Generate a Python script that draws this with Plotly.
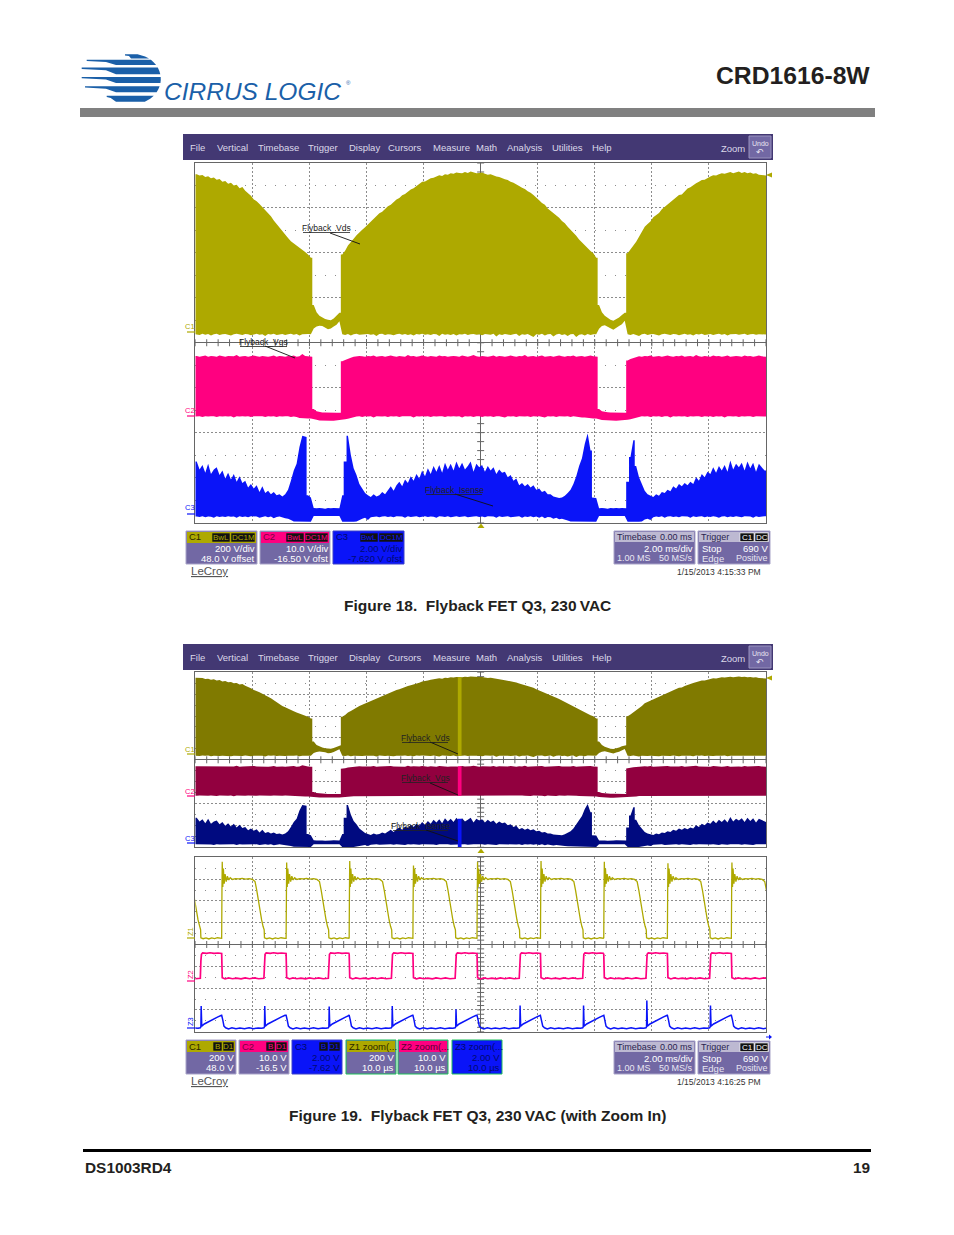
import numpy as np
import plotly.graph_objects as go

W, H = 954, 1235

# sample grid of the long captures: bin centres in ms, one bin = 0.1 ms
T_MS = np.arange(-9.95, 10.0, 0.1)
BIN_MS = 0.1

C1_TOP_V = [
    702, 696, 699, 690, 693, 684, 688, 678, 681, 668,
    672, 660, 664, 652, 655, 640, 645, 628, 618, 606,
    590, 582, 570, 556, 545, 528, 515, 496, 480, 462,
    445, 432, 418, 404, 395, 384, 376, 366, 356, 345,
    330, 120, 88, 72, 64, 58, 54, 52, 60, 72,
    85, 345, 362, 385, 398, 415, 430, 445, 455, 466,
    478, 490, 500, 514, 528, 535, 548, 560, 566, 578,
    590, 596, 608, 614, 626, 634, 640, 650, 656, 668,
    670, 678, 684, 686, 692, 698, 694, 702, 700, 706,
    704, 710, 708, 706, 712, 708, 714, 710, 706, 708,
    710, 704, 700, 702, 696, 692, 690, 684, 680, 676,
    668, 664, 658, 650, 642, 636, 626, 620, 610, 596,
    586, 574, 566, 550, 540, 532, 520, 508, 494, 484,
    468, 456, 440, 428, 412, 398, 386, 372, 360, 350,
    330, 120, 88, 72, 62, 54, 50, 56, 64, 76,
    85, 350, 366, 385, 402, 424, 445, 468, 480, 492,
    510, 520, 530, 546, 556, 570, 578, 590, 600, 610,
    612, 626, 638, 644, 654, 662, 668, 676, 678, 686,
    692, 698, 696, 702, 706, 704, 708, 712, 706, 710,
    714, 708, 712, 706, 710, 704, 706, 700, 698, 696,
]
C1_BOTTOM_V = [
    -10, -14, -8, -12, -9, -16, -10, -8, -13, -10,
    -9, -12, -16, -10, -8, -11, -14, -9, -10, -15,
    -10, -8, -12, -10, -18, -9, -11, -8, -13, -10,
    -9, -14, -10, -8, -12, -9, -16, -10, -11, -9,
    -10, 15, 24, 28, 26, 20, 12, 15, 24, 32,
    48, -10, -13, -9, -16, -10, -8, -12, -14, -10,
    -9, -12, -10, -18, -9, -8, -13, -10, -11, -15,
    -10, -8, -12, -9, -14, -10, -16, -9, -11, -8,
    -12, -10, -14, -9, -10, -18, -8, -12, -10, -13,
    -9, -16, -10, -11, -8, -14, -10, -9, -12, -10,
    -15, -9, -10, -12, -8, -20, -10, -13, -9, -11,
    -14, -10, -8, -18, -10, -12, -9, -14, -22, -10,
    -12, -8, -16, -10, -9, -20, -11, -8, -14, -10,
    -18, -10, -9, -22, -12, -10, -16, -9, -14, -10,
    -10, 14, 26, 30, 24, 16, 10, 18, 26, 34,
    50, -10, -14, -9, -12, -18, -10, -8, -13, -10,
    -9, -12, -16, -10, -8, -11, -14, -9, -10, -15,
    -10, -8, -12, -10, -16, -9, -11, -8, -13, -10,
    -9, -14, -10, -8, -12, -9, -16, -10, -11, -9,
    -12, -10, -8, -14, -10, -9, -12, -10, -8, -11,
]
C2_TOP_V = [
    13.4, 13.2, 13.3, 13.5, 13.2, 13.4, 13.3, 13.2, 13.5, 13.3,
    13.2, 13.4, 13.3, 13.3, 13.6, 13.2, 13.3, 13.4, 13.2, 13.3,
    13.5, 13.3, 13.2, 13.4, 13.3, 13.2, 13.3, 13.5, 13.2, 13.4,
    13.3, 13.2, 13.4, 13.3, 13.5, 13.2, 13.3, 13.8, 13.4, 13.3,
    13.2, 1.6, 1.1, 0.9, 0.8, 0.8, 0.75, 0.75, 0.75, 0.75,
    0.75, 12.2, 12.5, 12.8, 13.0, 13.2, 13.3, 13.4, 13.3, 13.2,
    13.4, 13.3, 13.5, 13.2, 13.3, 13.4, 13.2, 13.3, 13.5, 13.3,
    13.2, 13.4, 13.3, 13.2, 13.6, 13.3, 13.4, 13.2, 13.3, 13.5,
    13.3, 13.2, 13.4, 13.3, 13.2, 13.5, 13.3, 13.4, 13.2, 13.3,
    13.4, 13.3, 13.2, 13.5, 13.3, 13.2, 13.4, 13.6, 13.3, 13.2,
    13.4, 13.3, 13.2, 13.3, 13.5, 13.2, 13.4, 13.3, 13.2, 13.3,
    13.5, 13.3, 13.2, 13.4, 13.3, 13.6, 13.2, 13.3, 13.4, 13.2,
    13.3, 13.5, 13.2, 13.3, 13.4, 13.2, 13.3, 13.5, 13.3, 13.2,
    13.4, 13.3, 13.5, 13.2, 13.3, 13.4, 13.2, 13.3, 13.5, 13.3,
    13.2, 1.6, 1.1, 0.9, 0.85, 0.8, 0.8, 0.75, 0.75, 0.75,
    0.75, 12.4, 12.7, 12.9, 13.1, 13.3, 13.2, 13.4, 13.3, 13.5,
    13.2, 13.3, 13.4, 13.2, 13.3, 13.5, 13.3, 13.2, 13.4, 13.3,
    13.5, 13.2, 13.3, 13.4, 13.2, 13.6, 13.3, 13.2, 13.4, 13.3,
    13.2, 13.5, 13.3, 13.4, 13.2, 13.3, 13.5, 13.2, 13.3, 13.4,
    13.3, 13.2, 13.5, 13.3, 13.4, 13.2, 13.3, 13.5, 13.3, 13.2,
]
C2_BOTTOM_V = [
    -0.1, 0.0, -0.2, 0.0, -0.1, 0.0, 0.0, -0.2, 0.0, -0.1,
    0.0, -0.1, 0.0, -0.3, 0.0, -0.1, 0.0, -0.1, 0.0, -0.2,
    0.0, -0.1, 0.0, 0.0, -0.2, 0.0, -0.1, 0.0, -0.2, 0.0,
    -0.1, 0.0, 0.0, -0.2, -0.1, -0.2, -0.4, -0.4, -0.5, -0.5,
    -0.5, -0.6, -0.8, -0.95, -1.0, -1.05, -1.0, -1.0, -1.0, -0.95,
    -0.9, -0.8, -0.7, -0.6, -0.4, -0.3, -0.1, 0.0, -0.2, 0.0,
    -0.1, 0.0, -0.3, 0.0, 0.0, -0.1, 0.0, -0.2, 0.0, -0.1,
    0.0, -0.2, 0.0, -0.1, 0.0, 0.0, -0.3, 0.0, -0.1, 0.0,
    -0.1, 0.0, -0.2, 0.0, -0.1, 0.0, 0.0, -0.2, 0.0, -0.1,
    0.0, -0.1, 0.0, -0.3, 0.0, -0.1, 0.0, -0.2, 0.0, 0.0,
    -0.2, 0.0, -0.1, 0.0, -0.2, 0.0, 0.0, -0.1, -0.3, 0.0,
    -0.1, 0.0, -0.2, 0.0, 0.0, -0.1, 0.0, -0.2, 0.0, -0.1,
    0.0, -0.1, -0.3, 0.0, -0.1, 0.0, -0.2, 0.0, 0.0, -0.1,
    0.0, -0.2, 0.0, -0.1, -0.2, -0.3, -0.3, -0.4, -0.4, -0.5,
    -0.5, -0.7, -0.85, -0.95, -1.0, -1.0, -1.0, -1.0, -0.95, -0.95,
    -0.9, -0.8, -0.7, -0.5, -0.4, -0.2, 0.0, -0.1, 0.0, -0.2,
    0.0, -0.1, 0.0, -0.2, 0.0, 0.0, -0.3, 0.0, -0.1, 0.0,
    -0.1, 0.0, -0.2, 0.0, -0.1, 0.0, 0.0, -0.2, 0.0, -0.1,
    0.0, -0.2, 0.0, -0.1, 0.0, -0.3, 0.0, 0.0, -0.1, 0.0,
    -0.2, 0.0, -0.1, 0.0, 0.0, -0.2, 0.0, -0.1, 0.0, -0.1,
]
C3_TOP_V = [
    2.30, 1.95, 2.15, 1.80, 2.20, 1.75, 1.95, 2.05, 1.70, 1.90,
    1.55, 1.80, 1.50, 1.75, 1.40, 1.65, 1.35, 1.45, 1.15, 1.30,
    1.10, 1.25, 0.95, 1.20, 0.90, 1.00, 0.85, 0.95, 0.80, 0.85,
    0.75, 0.85, 1.05, 1.45, 1.90, 2.20, 2.95, 3.45, 3.40, 0.80,
    0.70, 0.24, 0.22, 0.24, 0.22, 0.20, 0.24, 0.22, 0.24, 0.22,
    0.22, 0.80, 2.30, 3.45, 2.60, 2.00, 1.70, 1.30, 1.10, 0.90,
    0.80, 0.72, 0.85, 0.75, 0.80, 0.95, 0.85, 1.05, 1.20, 1.00,
    1.25, 1.40, 1.20, 1.50, 1.35, 1.65, 1.45, 1.75, 1.55, 1.90,
    1.65, 2.00, 1.75, 2.10, 1.85, 2.15, 1.80, 2.25, 1.95, 2.20,
    1.90, 2.30, 2.00, 2.25, 1.95, 2.10, 2.30, 1.85, 2.20, 2.05,
    2.15, 1.85, 2.10, 1.90, 2.05, 1.75, 1.95, 1.80, 1.85, 1.60,
    1.70, 1.45, 1.55, 1.25, 1.35, 1.20, 1.30, 1.15, 1.25, 1.05,
    1.10, 0.95, 1.00, 0.85, 0.85, 0.75, 0.72, 0.68, 0.70, 0.78,
    0.90, 1.05, 1.30, 1.65, 2.10, 2.45, 3.10, 3.55, 2.80, 0.70,
    0.68, 0.22, 0.24, 0.22, 0.20, 0.24, 0.22, 0.24, 0.22, 0.24,
    0.22, 1.40, 2.50, 3.25, 2.10, 1.60, 1.30, 1.00, 0.85, 0.80,
    0.72, 0.85, 0.78, 0.95, 0.90, 1.05, 0.98, 1.20, 1.10, 1.30,
    1.20, 1.35, 1.25, 1.40, 1.30, 1.60, 1.45, 1.75, 1.60, 1.85,
    1.75, 2.05, 1.80, 2.10, 1.90, 2.15, 1.85, 2.35, 1.95, 2.20,
    2.05, 2.25, 1.90, 2.30, 2.00, 2.25, 1.85, 2.20, 2.05, 1.90,
]
C3_BOTTOM_V = [
    -0.14, -0.16, -0.13, -0.18, -0.14, -0.15, -0.20, -0.13, -0.16, -0.14,
    -0.17, -0.13, -0.15, -0.14, -0.20, -0.13, -0.16, -0.14, -0.18, -0.13,
    -0.15, -0.14, -0.20, -0.16, -0.13, -0.18, -0.14, -0.22, -0.16, -0.14,
    -0.18, -0.22, -0.24, -0.30, -0.36, -0.38, -0.38, -0.38, -0.38, -0.38,
    -0.38, -0.12, -0.12, -0.14, -0.12, -0.12, -0.13, -0.12, -0.12, -0.12,
    -0.12, -0.38, -0.38, -0.38, -0.38, -0.38, -0.36, -0.30, -0.24, -0.20,
    -0.30, -0.18, -0.16, -0.14, -0.18, -0.14, -0.13, -0.16, -0.14, -0.18,
    -0.13, -0.15, -0.14, -0.20, -0.13, -0.16, -0.14, -0.13, -0.18, -0.14,
    -0.13, -0.16, -0.14, -0.15, -0.20, -0.13, -0.14, -0.16, -0.13, -0.18,
    -0.14, -0.13, -0.16, -0.14, -0.13, -0.18, -0.15, -0.14, -0.13, -0.16,
    -0.14, -0.18, -0.13, -0.15, -0.14, -0.20, -0.13, -0.16, -0.14, -0.13,
    -0.18, -0.14, -0.15, -0.13, -0.20, -0.14, -0.16, -0.13, -0.18, -0.14,
    -0.20, -0.14, -0.22, -0.16, -0.18, -0.24, -0.20, -0.26, -0.24, -0.28,
    -0.32, -0.36, -0.38, -0.38, -0.38, -0.38, -0.38, -0.38, -0.38, -0.38,
    -0.38, -0.12, -0.12, -0.13, -0.12, -0.12, -0.14, -0.12, -0.12, -0.12,
    -0.12, -0.38, -0.38, -0.38, -0.38, -0.38, -0.36, -0.28, -0.24, -0.30,
    -0.18, -0.14, -0.16, -0.13, -0.20, -0.14, -0.13, -0.16, -0.14, -0.18,
    -0.13, -0.15, -0.14, -0.20, -0.13, -0.16, -0.14, -0.13, -0.18, -0.14,
    -0.16, -0.13, -0.15, -0.20, -0.14, -0.13, -0.18, -0.14, -0.16, -0.13,
    -0.14, -0.18, -0.13, -0.15, -0.14, -0.20, -0.13, -0.16, -0.14, -0.13,
]

# where the zoom window sits on the long capture (ms), and its heights
ZOOM_BAND_MS = [-0.80, -0.67]
ZOOM_BAND_C1_V = [-12, 706]
ZOOM_BAND_C2_V = [-0.1, 13.4]
ZOOM_BAND_C3_V = [-0.38, 2.2]

# zoom traces: switching edges (us)
EDGE_US = [-56.52, -45.38, -34.09, -23.04, -11.87, -0.64, 10.48, 21.57, 32.72, 43.93]
Z1_SPIKE_V = [690, 703, 695, 710, 667, 703, 708, 702, 688, 695]
Z3_SPIKE_V = [2.05, 2.05, 2.0, 2.05, 1.75, 2.1, 2.1, 2.55, 2.1, 2.0]

Z1_OFFSET_US = [0, 0.05, 0.1, 0.2, 0.3, 0.45, 0.6, 0.8, 1.0, 1.25, 1.5, 1.9, 2.4, 3.0, 3.6, 4.2, 4.8, 5.4,
                5.85, 6.15, 6.4, 6.7, 7.0, 7.25, 7.45, 7.5, 7.9, 8.4, 8.9, 9.4, 9.9, 10.4, 10.9, 11.1]
Z1_SHAPE_V = [0, 430, 700, 470, 640, 500, 590, 520, 570, 535, 555, 540, 548, 545, 550, 543, 548, 540,
              520, 440, 352, 260, 168, 110, 77, 5, -4, 4, -6, 3, -3, 5, -2, 0]
Z2_OFFSET_US = [0, 0.1, 0.6, 1.2, 1.9, 2.6, 3.4, 4.1, 4.9, 5.7, 6.5, 7.4, 7.5, 7.6, 7.8, 8.5, 9.1, 9.8, 10.5, 11.1]
Z2_SHAPE_V = [11.4, 0.3, -0.3, 0.2, -0.2, 0.1, -0.3, 0.2, -0.2, 0.2, -0.2, 0.0, 8.0, 11.0, 11.6, 11.4, 11.7, 11.4, 11.6, 11.4]
Z3_OFFSET_US = [0, 0.2, 0.4, 0.7, 1.2, 1.8, 2.5, 3.2, 4.0, 4.8, 5.6, 6.4, 7.0, 7.4, 7.5, 7.55, 7.65, 8.1, 8.6, 9.2, 9.8, 10.4, 11.1]
Z3_SHAPE_V = [1.2, 0.75, 0.2, 0.05, -0.05, 0.05, -0.03, 0.03, -0.03, 0.04, -0.03, 0.03, 0.0, 0.05, 0.15, 2.0, 0.2, 0.4, 0.52, 0.7, 0.85, 1.02, 1.2]
Z3_SPIKE_INDEX = 15

# screen range of each channel, 8 divisions high
C1_RANGE = [-848, 752]
C2_RANGE = [-23.67, 56.33]
C3_RANGE = [-0.41, 15.59]
Z1_RANGE = [-857, 743]
Z2_RANGE = [-24.5, 55.5]
Z3_RANGE = [-0.31, 15.69]

# a jump bigger than this between two bins is a hard edge, not grass
C1_JUMP, C2_JUMP, C3_JUMP = 150, 5, 0.9

YELLOW, PINK, BLUE = "#aea900", "#ff0080", "#0a14f8"
DIM_YELLOW, DIM_PINK, DIM_BLUE = "#807a00", "#92003f", "#000a80"
PANEL = "#7268a4"
MENU = "#433873"
GRID = "#8c8c8c"
FRAME = "#666666"
SANS = "Liberation Sans"

fig = go.Figure()
shapes = []
notes = []


def px(x):
    return x / W


def py(y):
    return 1 - y / H


def rect(x0, y0, x1, y1, fill, line=None, width=1):
    shapes.append(dict(type="rect", xref="paper", yref="paper", x0=px(x0), x1=px(x1), y0=py(y0), y1=py(y1),
                       fillcolor=fill, line=dict(color=line or fill, width=width if line else 0)))


def seg(x0, y0, x1, y1, color="#222222", width=1):
    shapes.append(dict(type="line", xref="paper", yref="paper", x0=px(x0), x1=px(x1), y0=py(y0), y1=py(y1),
                       line=dict(color=color, width=width)))


def poly(points, fill):
    path = "M " + " L ".join(f"{px(a):.5f},{py(b):.5f}" for a, b in points) + " Z"
    shapes.append(dict(type="path", xref="paper", yref="paper", path=path, fillcolor=fill, line=dict(width=0)))


def txt(x, y, text, size=9, color="#222222", anchor="left", bold=False, family=SANS, angle=0):
    if bold:
        text = f"<b>{text}</b>"
    notes.append(dict(xref="paper", yref="paper", x=px(x), y=py(y), text=text, showarrow=False,
                      xanchor=anchor, yanchor="middle", borderpad=0, textangle=angle,
                      font=dict(family=family, size=size, color=color)))


def add_pane(index, top, bottom, x_range, x_dtick, ranges):
    """One graticule: a base axis in divisions plus an overlaid y axis per channel."""
    base = (index - 1) * 4 + 1
    domain = [py(bottom), py(top)]
    common = dict(showticklabels=False, ticks="", showline=True, mirror=True, linecolor=FRAME, linewidth=1,
                  showgrid=True, gridcolor=GRID, griddash="2px,2px", gridwidth=1,
                  zeroline=True, zerolinecolor=FRAME, zerolinewidth=1, fixedrange=True)
    fig.update_layout(**{
        f"xaxis{index}": dict(domain=[px(195.3), px(766)], range=x_range, dtick=x_dtick, tick0=0,
                              anchor=f"y{base}", **common),
        f"yaxis{base}": dict(domain=domain, range=[-4, 4], dtick=1, tick0=0, anchor=f"x{index}",
                             minor=dict(dtick=0.5, showgrid=True, gridcolor=GRID, griddash="1px,9px", gridwidth=1),
                             **common),
    })
    for k, r in enumerate(ranges, start=1):
        fig.update_layout(**{f"yaxis{base + k}": dict(domain=domain, range=r, overlaying=f"y{base}",
                                                      anchor=f"x{index}", visible=False, fixedrange=True)})
    # small ticks along the two centre axes
    x_ticks = np.arange(x_range[0], x_range[1] + x_dtick / 10, x_dtick / 5)
    y_ticks = np.arange(-4, 4.01, 0.2)
    tick_line = dict(color=FRAME, width=1)
    fig.add_trace(go.Scatter(x=x_ticks, y=np.zeros(len(x_ticks)), mode="markers", xaxis=f"x{index}", yaxis=f"y{base}",
                             marker=dict(symbol="line-ns", size=5, line=tick_line), hoverinfo="skip"))
    fig.add_trace(go.Scatter(x=np.zeros(len(y_ticks)), y=y_ticks, mode="markers", xaxis=f"x{index}", yaxis=f"y{base}",
                             marker=dict(symbol="line-ew", size=5, line=tick_line), hoverinfo="skip"))
    return f"x{index}", [f"y{base + k}" for k in range(1, 4)]


def outline(values, jump):
    """Envelope path through the bins, squared off where the trace really jumps."""
    xs, ys = [T_MS[0] - BIN_MS / 2], [values[0]]
    for i, v in enumerate(values):
        xs.append(T_MS[i])
        ys.append(v)
        if i + 1 < len(values) and abs(values[i + 1] - v) > jump:
            edge = T_MS[i] + BIN_MS / 2
            xs += [edge, edge]
            ys += [v, values[i + 1]]
    xs.append(T_MS[-1] + BIN_MS / 2)
    ys.append(values[-1])
    return xs, ys


def capture(xa, ya, top, bottom, jump, color):
    tx, ty = outline(top, jump)
    bx, by = outline(bottom, jump)
    fig.add_trace(go.Scatter(x=tx + bx[::-1], y=ty + by[::-1], mode="lines", fill="toself", fillcolor=color,
                             line=dict(width=0, color=color), xaxis=xa, yaxis=ya, hoverinfo="skip"))


def edge_trace(xa, ya, offsets, shape, color, width):
    xs, ys = [], []
    for edge in EDGE_US:
        xs += [edge + o for o in offsets]
        ys += list(shape)
    fig.add_trace(go.Scatter(x=xs, y=ys, mode="lines", xaxis=xa, yaxis=ya,
                             line=dict(color=color, width=width), hoverinfo="skip"))


# --- upper scope shot ---
xa, (y1, y2, y3) = add_pane(1, 163, 522.5, [-10, 10], 2, [C1_RANGE, C2_RANGE, C3_RANGE])
capture(xa, y1, C1_TOP_V, C1_BOTTOM_V, C1_JUMP, YELLOW)
capture(xa, y2, C2_TOP_V, C2_BOTTOM_V, C2_JUMP, PINK)
capture(xa, y3, C3_TOP_V, C3_BOTTOM_V, C3_JUMP, BLUE)

# --- lower scope shot, long capture dimmed with the zoom window highlighted ---
xa, (y1, y2, y3) = add_pane(2, 672.3, 847.3, [-10, 10], 2, [C1_RANGE, C2_RANGE, C3_RANGE])
capture(xa, y1, C1_TOP_V, C1_BOTTOM_V, C1_JUMP, DIM_YELLOW)
capture(xa, y2, C2_TOP_V, C2_BOTTOM_V, C2_JUMP, DIM_PINK)
capture(xa, y3, C3_TOP_V, C3_BOTTOM_V, C3_JUMP, DIM_BLUE)
for ya, span, color in [(y1, ZOOM_BAND_C1_V, YELLOW), (y2, ZOOM_BAND_C2_V, PINK), (y3, ZOOM_BAND_C3_V, BLUE)]:
    fig.add_trace(go.Scatter(x=[ZOOM_BAND_MS[0], ZOOM_BAND_MS[1], ZOOM_BAND_MS[1], ZOOM_BAND_MS[0]],
                             y=[span[0], span[0], span[1], span[1]], mode="lines", fill="toself", fillcolor=color,
                             line=dict(width=0, color=color), xaxis=xa, yaxis=ya, hoverinfo="skip"))

# --- zoom traces ---
xa, (y1, y2, y3) = add_pane(3, 857.3, 1031.7, [-50, 50], 10, [Z1_RANGE, Z2_RANGE, Z3_RANGE])
xs, ys = [], []
for edge, spike in zip(EDGE_US, Z1_SPIKE_V):
    xs += [edge + o for o in Z1_OFFSET_US]
    shape = list(Z1_SHAPE_V)
    shape[2] = spike
    ys += shape
fig.add_trace(go.Scatter(x=xs, y=ys, mode="lines", xaxis=xa, yaxis=y1, line=dict(color=YELLOW, width=1.3), hoverinfo="skip"))
edge_trace(xa, y2, Z2_OFFSET_US, Z2_SHAPE_V, PINK, 1.7)
xs, ys = [], []
for edge, spike in zip(EDGE_US, Z3_SPIKE_V):
    xs += [edge + o for o in Z3_OFFSET_US]
    shape = list(Z3_SHAPE_V)
    shape[Z3_SPIKE_INDEX] = spike
    ys += shape
fig.add_trace(go.Scatter(x=xs, y=ys, mode="lines", xaxis=xa, yaxis=y3, line=dict(color=BLUE, width=1.5), hoverinfo="skip"))

# --- page furniture ---
rect(80, 108, 875, 117, "#808080")
txt(871, 75, "CRD1616-8W", size=24.7, color="#231f20", anchor="right", bold=True)
txt(477, 605, "Figure 18.\u00a0\u00a0Flyback FET Q3, 230\u2009VAC", size=15.5, color="#231f20", anchor="center", bold=True)
txt(477, 1115, "Figure 19.\u00a0\u00a0Flyback FET Q3, 230\u2009VAC (with Zoom In)", size=15.5, color="#231f20", anchor="center", bold=True)
rect(83, 1149, 871, 1152, "#000000")
txt(84, 1167, "DS1003RD4", size=15.4, color="#231f20", bold=True)
txt(871, 1167, "19", size=15.4, color="#231f20", anchor="right", bold=True)

# logo: a striped disc with tapered bars running off to the left
LOGO_BLUE = "#1a5fa8"
for y0, y1, left in [(54.3, 58.5, 125), (59.8, 65, 86.7), (67.6, 74.3, 81.7), (77, 83, 81.7), (86.3, 92.3, 85), (95.7, 101.7, 106.7)]:
    mid = (y0 + y1) / 2
    right0 = 133.3 + 27.5 * np.sqrt(max(0, 1 - ((y0 - 79) / 25) ** 2))
    right1 = 133.3 + 27.5 * np.sqrt(max(0, 1 - ((y1 - 79) / 25) ** 2))
    right_mid = 133.3 + 27.5 * np.sqrt(max(0, 1 - ((mid - 79) / 25) ** 2))
    poly([(left, y0), (right0, y0), (right_mid, mid), (right1, y1), (max(left + 6, 116), y1),
          (max(left + 4, 106), y0 + (y1 - y0) * 0.4), (left, y0 + 1.3)], LOGO_BLUE)
txt(163, 92, "<i>CIRRUS LOGIC</i>", size=24.5, color=LOGO_BLUE)
txt(345, 83, "\u00ae", size=6, color=LOGO_BLUE)

MENU_ITEMS = ["File", "Vertical", "Timebase", "Trigger", "Display", "Cursors", "Measure", "Math", "Analysis", "Utilities", "Help"]
MENU_CENTRES = [197, 232, 278, 323, 364, 405, 451, 487, 525, 567, 602]


def scope_menu(dy):
    rect(183, 134 + dy, 773, 160 + dy, MENU)
    for label, cx in zip(MENU_ITEMS, MENU_CENTRES):
        txt(cx, 147.5 + dy, label, size=9.5, color="#dcd9ea", anchor="center")
    txt(733, 148.5 + dy, "Zoom", size=9.5, color="#dcd9ea", anchor="center")
    rect(749, 136 + dy, 771, 158 + dy, "#7268a4", "#9a93bf")
    txt(760, 143.5 + dy, "Undo", size=7, color="#e8e6f2", anchor="center")
    txt(760, 151.5 + dy, "\u21b6", size=9, color="#e8e6f2", anchor="center")


scope_menu(0)
scope_menu(510)


def chip(x0, x1, y0, y1, label, color):
    rect(x0, y0, x1, y1, "#111111", color, 0.6)
    txt((x0 + x1) / 2, (y0 + y1) / 2, label, size=8, color=color, anchor="center")


def channel_panel(x0, x1, y0, y1, name, head, body, lines, chips, name_color="#2a2600", text_color="#ffffff", edge="#a8a3c8"):
    rect(x0, y0, x1, y1, body, edge)
    rect(x0 + 1, y0 + 1, x1 - 1, y0 + 12, head)
    txt(x0 + 2, y0 + 6, name, size=9.5, color=name_color)
    for cx0, cx1, label in chips:
        chip(cx0, cx1, y0 + 2, y0 + 11, label, head)
    txt(x1 - 1, y0 + 17.5, lines[0], size=9.5, color=text_color, anchor="right")
    txt(x1 - 1, y0 + 27, lines[1], size=9.5, color=text_color, anchor="right")


channel_panel(186, 257, 531, 564, "C1", YELLOW, PANEL, ["200 V/div", "48.0 V offset"], [(212, 230, "BwL"), (231, 255, "DC1M")])
channel_panel(260, 330, 531, 564, "C2", PINK, PANEL, ["10.0 V/div", "-16.50 V ofst"], [(286, 304, "BwL"), (305, 328, "DC1M")], name_color="#7a0040")
channel_panel(333, 404, 531, 564, "C3", BLUE, BLUE, ["2.00 V/div", "-7.620 V ofst"], [(360, 378, "BwL"), (379, 403, "DC1M")],
              name_color="#00086a", text_color="#000a70", edge="#3a40c8")

GREEN = "#1fc05a"
channel_panel(186, 236, 1040, 1074, "C1", YELLOW, PANEL, ["200 V", "48.0 V"], [(213, 222, "B"), (223, 234, "D1")])
channel_panel(239, 289, 1040, 1074, "C2", PINK, PANEL, ["10.0 V", "-16.5 V"], [(266, 275, "B"), (276, 287, "D1")], name_color="#7a0040")
channel_panel(292, 342, 1040, 1074, "C3", BLUE, BLUE, ["2.00 V", "-7.62 V"], [(319, 328, "B"), (329, 340, "D1")],
              name_color="#00086a", text_color="#000a70", edge="#3a40c8")
channel_panel(346, 396, 1040, 1074, "Z1 zoom(...", YELLOW, PANEL, ["200 V", "10.0 \u00b5s"], [], edge=GREEN)
channel_panel(398, 448, 1040, 1074, "Z2 zoom(...", PINK, PANEL, ["10.0 V", "10.0 \u00b5s"], [], name_color="#5a0030", edge=GREEN)
channel_panel(452, 502, 1040, 1074, "Z3 zoom(...", BLUE, BLUE, ["2.00 V", "10.0 \u00b5s"], [], name_color="#00086a", text_color="#000a70", edge=GREEN)


def time_panels(y0, date_text):
    y1 = y0 + 33
    rect(614, y0, 695, y1, PANEL, "#a8a3c8")
    rect(615, y0 + 1, 694, y0 + 11, "#bdb9d2")
    txt(615.5, y0 + 5.5, "Timebase", size=9, color="#2a2450")
    txt(694, y0 + 5.5, "0.00 ms", size=9, color="#2a2450", anchor="right")
    txt(694, y0 + 17, "2.00 ms/div", size=9.5, color="#ffffff", anchor="right")
    txt(616, y0 + 27, "1.00 MS", size=9, color="#e8e6f2")
    txt(694, y0 + 27, "50 MS/s", size=9, color="#e8e6f2", anchor="right")
    rect(698, y0, 770, y1, PANEL, "#a8a3c8")
    rect(699, y0 + 1, 769, y0 + 11, "#bdb9d2")
    txt(700, y0 + 5.5, "Trigger", size=9, color="#2a2450")
    chip(740, 754, y0 + 2, y0 + 10.5, "C1", "#ffffff")
    chip(755, 768, y0 + 2, y0 + 10.5, "DC", "#ffffff")
    txt(701, y0 + 17, "Stop", size=9.5, color="#ffffff")
    txt(769, y0 + 17, "690 V", size=9.5, color="#ffffff", anchor="right")
    txt(701, y0 + 27, "Edge", size=9.5, color="#e8e6f2")
    txt(769, y0 + 27, "Positive", size=9, color="#e8e6f2", anchor="right")
    txt(762, y0 + 41, date_text, size=8.5, color="#333333", anchor="right")
    txt(190, y0 + 40, "<u>LeCroy</u>", size=11.5, color="#555555")


time_panels(531, "1/15/2013 4:15:33 PM")
time_panels(1041, "1/15/2013 4:16:25 PM")

# waveform names with their underline and leader
for x0, x1, ty, name, lead in [
    (303, 350, 228, "Flyback_Vds", (330, 233, 360, 244)),
    (240, 287, 342, "Flyback_Vgs", (265, 346, 295, 358)),
    (426, 482, 490, "Flyback_Isense", (455, 494, 493, 506)),
    (402, 448, 738, "Flyback_Vds", (430, 742, 458, 754)),
    (402, 448, 778, "Flyback_Vgs", (430, 783, 458, 795)),
    (393, 448, 826, "Flyback_Isense", (426, 830, 458, 841)),
]:
    txt((x0 + x1) / 2, ty, name, size=8.5, color="#222222", anchor="center")
    seg(x0, ty + 4.5, x1, ty + 4.5, "#222222", 0.8)
    seg(*lead, color="#111111", width=0.9)

# channel tags on the left of each graticule
for label, ty, mark, color, angle in [
    ("C1", 326, 332, YELLOW, 0), ("C2", 410, 416, PINK, 0), ("C3", 508, 514, BLUE, 0),
    ("C1", 749, 754, YELLOW, 0), ("C2", 791, 796, PINK, 0), ("C3", 838, 843, BLUE, 0),
    ("Z1", 932, 938, YELLOW, -90), ("Z2", 975, 981, PINK, -90), ("Z3", 1022, 1028, BLUE, -90),
]:
    txt(190, ty, label, size=7.5, color=color, anchor="center", angle=angle)
    seg(187, mark, 195, mark, color, 1.2)

# trigger markers
poly([(766, 175), (772, 172.5), (772, 177.5)], YELLOW)
poly([(766, 678), (772, 675.5), (772, 680.5)], YELLOW)
poly([(481, 523.5), (477.5, 528), (484.5, 528)], YELLOW)
poly([(481, 848.5), (477.5, 853), (484.5, 853)], YELLOW)
seg(766, 1037, 771, 1037, BLUE, 1)
poly([(772, 1037), (769, 1034.5), (769, 1039.5)], BLUE)

fig.update_layout(
    width=W, height=H, margin=dict(l=0, r=0, t=0, b=0), autosize=False,
    paper_bgcolor="#ffffff", plot_bgcolor="#ffffff", showlegend=False,
    shapes=shapes, annotations=notes,
)
fig.write_html("out.html", config={"displayModeBar": False},
               post_script="document.body.style.margin='0';")
